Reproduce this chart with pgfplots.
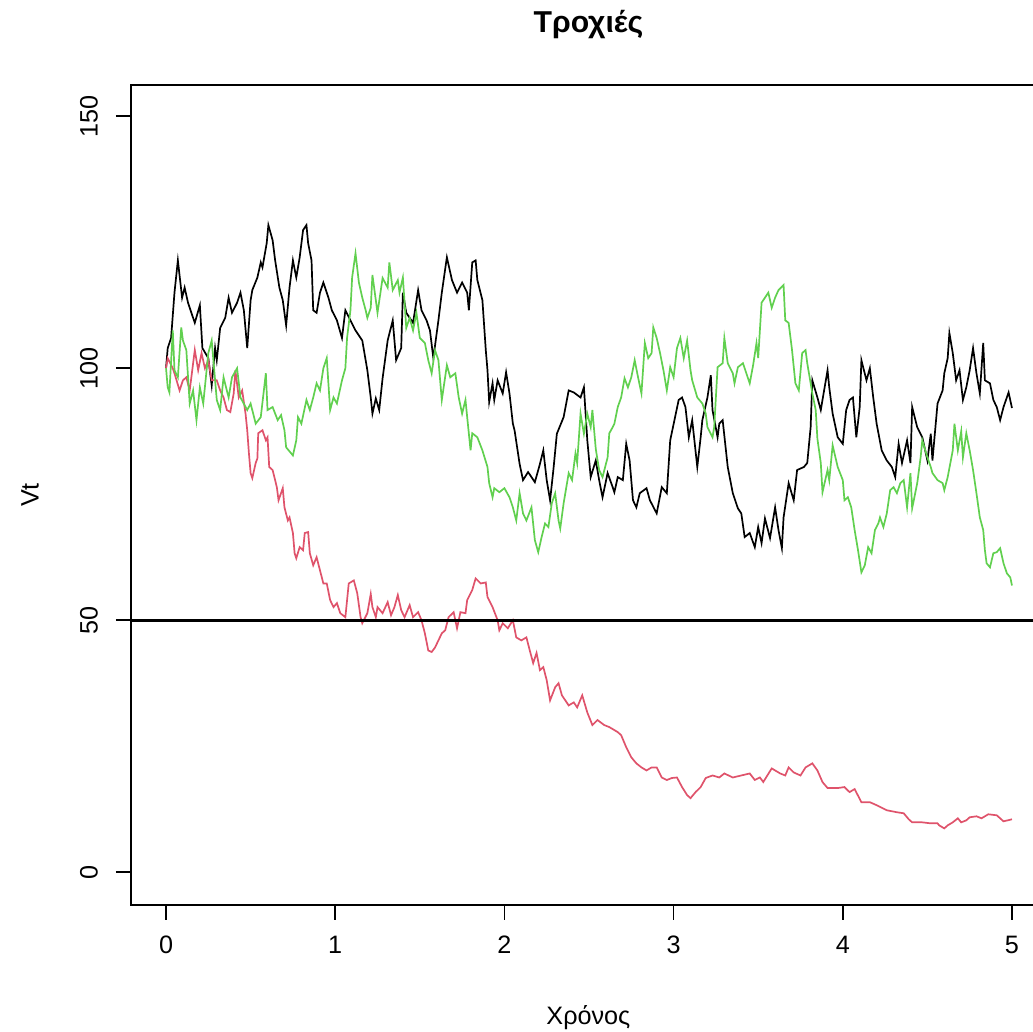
\documentclass[border=0pt]{standalone}
\usepackage{pgfplots}
\pgfplotsset{compat=1.18}
\usepackage{fontspec}
\setmainfont{Liberation Sans}
\definecolor{rred}{HTML}{DF536B}
\definecolor{rgreen}{HTML}{61D04F}
\begin{document}
\begin{tikzpicture}
\begin{axis}[
  at={(65.5pt,63.5pt)}, anchor=south west,
  scale only axis, width=457.4pt, height=410pt,
  xmin=-0.207, xmax=5.2, ymin=-6.5, ymax=156.2,
  xtick={0,1,2,3,4,5}, ytick={0,50,100,150},
  tick align=outside, major tick length=7.5pt,
  xtick pos=bottom, ytick pos=left,
  axis line style={line width=0.8pt},
  every tick/.style={black, line width=0.8pt},
  /pgf/number format/assume math mode=true,
  tick label style={font=\fontsize{12.6}{14}\selectfont},
  xticklabel style={yshift=-4.5pt},
  yticklabel style={rotate=90, anchor=south},
  yticklabel shift=5.5pt,
  title={\bfseries Τροχιές},
  every axis title/.style={font=\fontsize{15.1}{17}\selectfont, at={(axis description cs:0.5,1.0732)}, anchor=center},
  xlabel={Χρόνος}, ylabel={Vt},
  label style={font=\fontsize{12.6}{14}\selectfont},
  xlabel style={at={(axis description cs:0.5,-0.1378)}, anchor=center},
  ylabel style={at={(axis description cs:-0.1104,0.5)}, anchor=center, rotate=0},
]
\addplot[black, line width=0.85pt] coordinates {
(0,100) (0.01,104) (0.03,106) (0.05,115) (0.07,121.4) (0.095,114) (0.11,116) (0.13,113) (0.17,109) (0.2,112.5) (0.215,104) (0.25,102) (0.27,96.6) (0.29,104) (0.30,101.6) (0.32,108) (0.35,110) (0.37,114) (0.39,111) (0.42,113) (0.44,115) (0.46,111.5) (0.48,104) (0.50,113.5) (0.51,115.5) (0.54,118) (0.56,121) (0.57,120) (0.595,124.8) (0.605,128.4) (0.63,125.4) (0.645,121.4) (0.67,116) (0.69,113.5) (0.71,108.5) (0.73,116) (0.75,121.4) (0.77,118) (0.79,122) (0.81,127.4) (0.83,128.4) (0.84,124.8) (0.86,121.4) (0.87,111.5) (0.89,111) (0.91,115) (0.93,117) (0.96,114) (0.98,111.5) (1.01,109.5) (1.04,106) (1.06,111.5) (1.09,109.5) (1.12,107.5) (1.16,105.5) (1.19,99.6) (1.21,94.2) (1.22,91) (1.24,94) (1.26,91.7) (1.28,98) (1.31,105.5) (1.34,109.5) (1.36,101.6) (1.39,104) (1.40,115) (1.42,111) (1.46,109) (1.49,115.5) (1.51,111.5) (1.54,109.5) (1.56,107.5) (1.58,102) (1.61,109.5) (1.63,115) (1.66,122) (1.69,117.5) (1.72,115) (1.75,117) (1.78,115) (1.79,111.5) (1.81,121) (1.83,121.4) (1.84,117.5) (1.87,113.5) (1.89,103.6) (1.90,99.6) (1.91,93.3) (1.93,97) (1.94,93.7) (1.96,97.6) (1.99,95) (2.01,99.2) (2.03,95) (2.05,89) (2.06,87.7) (2.09,81) (2.11,77.8) (2.14,79.4) (2.18,77.4) (2.21,81) (2.23,83.7) (2.25,77.8) (2.27,73.8) (2.29,80) (2.31,87) (2.35,90.3) (2.38,95.6) (2.41,95.2) (2.45,94.2) (2.47,96.2) (2.49,85.7) (2.51,78.4) (2.54,81.7) (2.56,77.8) (2.58,74.4) (2.61,79.2) (2.64,76.4) (2.65,75.4) (2.67,78.4) (2.70,77.8) (2.72,85) (2.74,81.7) (2.76,73.8) (2.78,72.4) (2.80,75.2) (2.84,76.2) (2.86,73.8) (2.90,71.2) (2.93,76.4) (2.96,75.2) (2.98,85.7) (3.03,93.7) (3.05,94.2) (3.07,92.3) (3.09,86.3) (3.11,89.7) (3.14,80.4) (3.16,86.3) (3.17,89.7) (3.20,94.2) (3.22,98.6) (3.23,91.7) (3.26,86.3) (3.27,89) (3.29,89.7) (3.32,80.4) (3.35,75.2) (3.38,72.2) (3.40,71.2) (3.42,66.5) (3.45,67.3) (3.48,64.5) (3.50,68.5) (3.52,65.3) (3.54,70.2) (3.57,66.3) (3.60,72.4) (3.62,67.9) (3.64,64.3) (3.65,70.4) (3.68,77.2) (3.71,73.8) (3.73,79.8) (3.77,80.4) (3.79,81.2) (3.81,88.3) (3.82,97.6) (3.85,94.2) (3.87,91.7) (3.88,93.7) (3.91,99.6) (3.92,96.2) (3.94,91) (3.97,86.3) (4.0,85) (4.02,91.7) (4.04,93.7) (4.06,94.2) (4.08,86.3) (4.10,92.3) (4.11,101.6) (4.14,97.6) (4.16,100) (4.18,94.2) (4.20,89) (4.23,83.7) (4.26,81.7) (4.29,80.4) (4.31,78.4) (4.33,85) (4.35,81.2) (4.38,85.7) (4.40,81.2) (4.41,92.3) (4.44,88.3) (4.47,86.3) (4.50,81.7) (4.52,87) (4.53,81.7) (4.56,93) (4.59,95.6) (4.60,99) (4.62,102) (4.63,107) (4.65,103) (4.67,97.6) (4.69,99.6) (4.71,93.7) (4.73,96.2) (4.75,99.6) (4.77,104) (4.79,99) (4.81,95) (4.83,105) (4.84,97.6) (4.87,97) (4.89,93.7) (4.91,92.3) (4.93,89.7) (4.95,92.3) (4.98,95.2) (5.0,92.1)
};
\addplot[rred, line width=0.85pt] coordinates {
(0,100) (0.005,101) (0.01,102) (0.04,100) (0.05,99) (0.08,95.6) (0.10,97.6) (0.12,98.2) (0.14,95.6) (0.17,103.6) (0.19,99.6) (0.21,103) (0.23,100) (0.25,101.6) (0.27,97.6) (0.30,97.6) (0.32,95.6) (0.34,94.2) (0.36,91.7) (0.38,91.3) (0.40,95) (0.41,99.6) (0.43,94.2) (0.45,95.6) (0.47,91) (0.48,87.7) (0.49,83.1) (0.50,79.2) (0.51,78.2) (0.53,81.2) (0.54,82.1) (0.545,87.1) (0.57,87.7) (0.59,85.7) (0.60,86.3) (0.61,80.4) (0.63,79.8) (0.655,76.4) (0.665,73.8) (0.69,76.2) (0.70,72.4) (0.72,69.8) (0.73,70.4) (0.75,67.3) (0.76,63.3) (0.77,62.3) (0.79,64.5) (0.81,63.9) (0.82,67.3) (0.84,67.5) (0.85,63.3) (0.87,60.9) (0.89,62.5) (0.91,59.9) (0.93,57.3) (0.95,57.3) (0.97,54) (0.99,52.6) (1.01,53.4) (1.03,51.4) (1.06,50.6) (1.08,57.3) (1.11,57.9) (1.13,55.4) (1.15,50.6) (1.16,49.4) (1.19,51.4) (1.21,55.2) (1.22,52.6) (1.24,50.6) (1.25,52.6) (1.28,51.4) (1.31,53.6) (1.33,51) (1.35,52.6) (1.37,55) (1.39,52) (1.41,50.6) (1.44,53) (1.46,50.6) (1.49,51.6) (1.51,50) (1.53,47.4) (1.55,44) (1.57,43.7) (1.59,44.6) (1.61,46) (1.63,47.4) (1.65,48) (1.67,50.6) (1.70,51.6) (1.72,48.4) (1.74,51.6) (1.77,51.4) (1.78,54) (1.81,56) (1.83,58.3) (1.86,57.3) (1.89,57.5) (1.90,54.6) (1.93,52.6) (1.96,50) (1.97,48) (1.99,49.4) (2.02,48.4) (2.05,50) (2.07,46.6) (2.10,46) (2.13,46.6) (2.15,44) (2.17,41.5) (2.19,43.5) (2.21,40.1) (2.23,40.7) (2.25,38.1) (2.27,34.1) (2.30,36.7) (2.32,37.5) (2.34,35.1) (2.38,33.1) (2.41,33.7) (2.43,32.7) (2.46,35.1) (2.49,31.7) (2.52,29.2) (2.55,30.2) (2.59,29.2) (2.62,28.8) (2.67,27.8) (2.69,27.2) (2.72,24.8) (2.75,22.8) (2.78,21.6) (2.81,20.8) (2.84,20.2) (2.87,20.8) (2.90,20.8) (2.93,18.8) (2.96,18.3) (2.99,18.7) (3.02,18.8) (3.05,16.9) (3.08,15.3) (3.10,14.7) (3.13,15.9) (3.16,16.9) (3.19,18.7) (3.23,19.2) (3.27,18.8) (3.30,19.6) (3.35,18.8) (3.40,19.2) (3.45,19.6) (3.48,18.3) (3.51,18.8) (3.53,17.9) (3.58,20.6) (3.63,19.6) (3.66,19.2) (3.68,20.8) (3.71,19.8) (3.75,19.2) (3.78,20.8) (3.82,21.6) (3.85,20.2) (3.88,17.9) (3.91,16.7) (3.97,16.7) (4.01,16.9) (4.04,15.9) (4.07,16.5) (4.11,13.9) (4.16,13.9) (4.20,13.3) (4.26,12.3) (4.32,11.9) (4.36,11.7) (4.39,10.5) (4.41,9.9) (4.47,9.9) (4.52,9.7) (4.56,9.7) (4.57,9.3) (4.60,8.7) (4.62,9.3) (4.65,9.9) (4.68,10.7) (4.70,9.9) (4.73,10.3) (4.75,10.9) (4.79,11.1) (4.82,10.7) (4.86,11.5) (4.91,11.3) (4.93,10.7) (4.95,10.1) (5.0,10.5)
};
\addplot[rgreen, line width=0.85pt] coordinates {
(0,100) (0.01,96.2) (0.02,95.2) (0.04,107.5) (0.05,99.6) (0.07,98.2) (0.09,108.1) (0.10,105.5) (0.12,103.6) (0.14,93) (0.16,95.6) (0.18,89.7) (0.20,96.2) (0.22,93) (0.25,103) (0.27,105.5) (0.30,93.7) (0.32,91.7) (0.34,98.2) (0.37,94.2) (0.39,98.2) (0.42,100) (0.44,94.2) (0.48,91.7) (0.50,93) (0.53,89) (0.56,90.3) (0.59,99) (0.60,91.7) (0.63,92.3) (0.66,89.7) (0.68,90.7) (0.70,87.7) (0.71,84.3) (0.75,82.7) (0.77,85.7) (0.78,90.3) (0.80,89) (0.83,93.7) (0.85,91.7) (0.87,94.2) (0.89,97) (0.91,95.6) (0.93,100) (0.95,102) (0.97,91.7) (0.99,94.2) (1.01,93) (1.04,97.6) (1.06,100) (1.07,106) (1.09,111.5) (1.10,118) (1.12,122.8) (1.14,117) (1.16,114) (1.18,111.5) (1.19,110) (1.21,112) (1.22,118.5) (1.25,111) (1.28,117.9) (1.31,116) (1.32,121) (1.34,115.5) (1.37,117.5) (1.38,115) (1.40,118) (1.42,108) (1.44,110) (1.46,107.5) (1.48,111) (1.50,106) (1.53,105) (1.55,101.6) (1.57,99) (1.59,103.6) (1.61,101.6) (1.63,93.7) (1.66,100.6) (1.68,98.2) (1.71,99) (1.73,94.2) (1.75,91) (1.77,93.7) (1.78,90.3) (1.80,83.7) (1.81,87.1) (1.84,86.3) (1.87,83.7) (1.90,80.4) (1.91,77.2) (1.93,74.4) (1.94,76.2) (1.97,75.4) (2.0,76.2) (2.03,74.4) (2.05,72.4) (2.07,69.8) (2.09,75.2) (2.11,71.2) (2.13,69.8) (2.16,72.4) (2.18,65.9) (2.20,63.5) (2.22,66.5) (2.24,69.2) (2.26,68.5) (2.28,73.2) (2.30,75.2) (2.32,69.8) (2.33,68.2) (2.35,73.2) (2.38,79.2) (2.40,77.8) (2.42,83.1) (2.43,81.2) (2.45,91) (2.47,87) (2.49,91) (2.51,88.3) (2.52,91.7) (2.54,84) (2.56,79.8) (2.58,78.4) (2.61,82.3) (2.62,87.1) (2.64,88.3) (2.65,89) (2.67,92.3) (2.69,94.2) (2.71,98) (2.73,96.2) (2.75,98.2) (2.77,101.6) (2.79,98.2) (2.81,95) (2.83,105) (2.85,102) (2.87,103) (2.88,108.1) (2.90,106) (2.92,103) (2.94,99.6) (2.96,95.6) (2.98,100.2) (3.0,98.2) (3.02,104) (3.04,106) (3.06,102) (3.08,105.5) (3.10,99.6) (3.11,97.6) (3.14,94.2) (3.17,93) (3.19,91) (3.20,88.3) (3.23,86.3) (3.24,88.3) (3.26,100.2) (3.29,101) (3.30,106) (3.32,101) (3.35,99) (3.36,97) (3.38,100.2) (3.41,101) (3.43,99) (3.45,97) (3.47,100.6) (3.49,105) (3.50,102) (3.52,113) (3.54,114) (3.56,115) (3.58,112) (3.60,114) (3.62,115.5) (3.65,116.5) (3.66,109.5) (3.68,109) (3.70,103.6) (3.72,97) (3.74,95.6) (3.76,103) (3.78,103.6) (3.79,101) (3.82,95) (3.84,91.7) (3.85,86) (3.87,81.2) (3.88,75.4) (3.91,79.8) (3.92,77.8) (3.94,84.7) (3.97,80.4) (4.0,77.8) (4.01,73.8) (4.03,74.4) (4.05,72.4) (4.07,67.9) (4.09,63.9) (4.11,59.5) (4.13,60.9) (4.15,64.5) (4.17,63.3) (4.19,67.9) (4.21,69.2) (4.22,70.4) (4.24,68.5) (4.26,71.2) (4.28,75.8) (4.30,76.4) (4.32,75.2) (4.34,77.2) (4.36,77.8) (4.38,72.4) (4.40,79.2) (4.41,72.2) (4.44,77.2) (4.46,82.3) (4.47,85.7) (4.50,82.3) (4.52,80.4) (4.53,79.2) (4.56,77.8) (4.59,77.2) (4.60,75.8) (4.62,78.4) (4.65,83.7) (4.66,89) (4.68,83.7) (4.70,87.5) (4.71,82.3) (4.73,87.1) (4.75,83.7) (4.77,79.8) (4.79,75.2) (4.81,70.4) (4.83,67.9) (4.84,63.9) (4.85,61.3) (4.87,60.5) (4.89,63.3) (4.91,63.5) (4.93,64.3) (4.95,61.3) (4.97,59.3) (4.99,58.5) (5.0,56.9)
};
\addplot[black, line width=1.6pt] coordinates {(-0.207,50) (5.2,50)};
\end{axis}
\pgfresetboundingbox
\path[use as bounding box] (0,0) rectangle (516.5pt,516pt);
\end{tikzpicture}
\end{document}
